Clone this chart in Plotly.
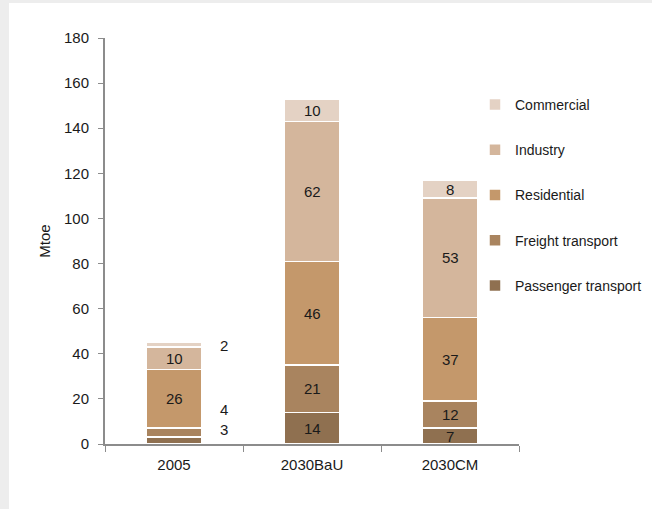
import plotly.graph_objects as go

# Final energy demand by sector (Mtoe)
scenarios = ["2005", "2030BaU", "2030CM"]
sectors = ["Passenger transport", "Freight transport", "Residential", "Industry", "Commercial"]
passenger = [3, 14, 7]
freight = [4, 21, 12]
residential = [26, 46, 37]
industry = [10, 62, 53]
commercial = [2, 10, 8]
series = [passenger, freight, residential, industry, commercial]
colors = ["#8f7050", "#a9845f", "#c4986b", "#d4b69c", "#e4d2c4"]

y_ticks = list(range(0, 181, 20))

FONT = "Liberation Sans, Arial, sans-serif"
TXT = "#1a1a1a"

W, H = 652, 509
L, R, T, B = 105, 133, 38, 65
PW, PH = W - L - R, H - T - B

fig = go.Figure()
for i, (name, vals, col) in enumerate(zip(sectors, series, colors)):
    fig.add_trace(go.Bar(
        x=scenarios, y=vals, name=name, legendgroup=name,
        legendrank=len(sectors) - i,
        marker=dict(color=col, line=dict(color="white", width=1.5)),
        width=0.4,
    ))

# value labels: centred in each segment, except the thin 2005 slices which sit beside the bar
# (x given as category index so "2005" is not read as a position)
outside_labels = {(0, 0): 6.6, (0, 1): 15.5, (0, 4): 43.5}
annotations = []
for ci, cat in enumerate(scenarios):
    base = 0
    for si, vals in enumerate(series):
        v = vals[ci]
        if (ci, si) in outside_labels:
            annotations.append(dict(x=ci, y=outside_labels[(ci, si)], text=str(v), showarrow=False,
                                    xshift=50, font=dict(size=15, color=TXT, family=FONT)))
        else:
            annotations.append(dict(x=ci, y=base + v / 2, text=str(v), showarrow=False,
                                    font=dict(size=15, color=TXT, family=FONT)))
        base += v

def px_to_paper_x(px):
    return (px - L) / PW

def px_to_paper_y(py):
    return (H - B - py) / PH

shapes = [
    dict(type="rect", xref="paper", yref="paper", layer="below",
         x0=px_to_paper_x(0), x1=px_to_paper_x(9), y0=px_to_paper_y(H), y1=px_to_paper_y(0),
         fillcolor="#ededed", line=dict(width=0)),
    dict(type="rect", xref="paper", yref="paper", layer="below",
         x0=px_to_paper_x(0), x1=px_to_paper_x(W), y0=px_to_paper_y(3), y1=px_to_paper_y(0),
         fillcolor="#ededed", line=dict(width=0)),
]

fig.update_layout(
    width=W, height=H,
    margin=dict(l=L, r=R, t=T, b=B, pad=0, autoexpand=False),
    barmode="stack",
    paper_bgcolor="white", plot_bgcolor="white",
    font=dict(family=FONT, size=15, color=TXT),
    showlegend=True,
    legend=dict(x=px_to_paper_x(475), y=px_to_paper_y(89), xanchor="left", yanchor="top",
                traceorder="grouped", tracegroupgap=24,
                font=dict(size=14, family=FONT, color=TXT),
                itemwidth=30, bgcolor="rgba(0,0,0,0)"),
    annotations=annotations,
    shapes=shapes,
    xaxis=dict(type="category", range=[-0.5, 2.5], showline=True, linecolor="#8c8c8c", linewidth=2,
               ticks="outside", tickson="boundaries", ticklen=6, tickcolor="#8c8c8c",
               ticklabelstandoff=6,
               tickfont=dict(size=15, family=FONT), showgrid=False),
    yaxis=dict(range=[0, 180], tickvals=y_ticks, showline=True, linecolor="#8c8c8c", linewidth=2,
               ticks="outside", ticklen=5, tickcolor="#8c8c8c", showgrid=False, zeroline=False,
               ticklabelstandoff=6,
               tickfont=dict(size=15, family=FONT),
               title=dict(text="Mtoe", font=dict(size=15, family=FONT), standoff=10)),
)

fig.write_html("out.html")
